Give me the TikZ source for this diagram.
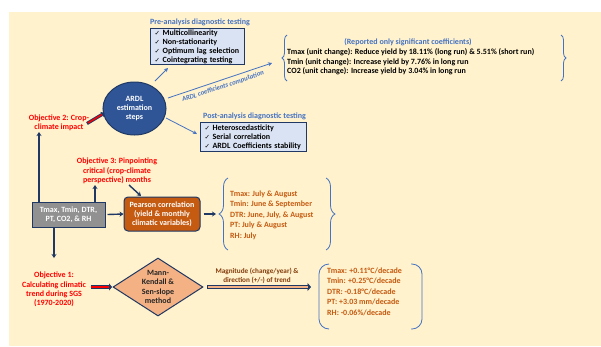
\documentclass[tikz,border=0pt]{standalone}
\usepackage{fontspec}
\setmainfont{Carlito}
\newfontfamily\dejavu{DejaVu Sans}
\usetikzlibrary{arrows.meta,shapes.geometric,decorations.pathreplacing,calc}
\definecolor{cream}{HTML}{FFF2CC}
\definecolor{navy}{HTML}{1F3864}
\definecolor{bluet}{HTML}{4472C4}
\definecolor{redt}{HTML}{FF0000}
\definecolor{oranget}{HTML}{C55A11}
\definecolor{boxblue}{HTML}{DAE3F3}
\definecolor{ellblue}{HTML}{2F5597}
\definecolor{salmon}{HTML}{F4B183}
\definecolor{brownt}{HTML}{843C0C}
\newcommand{\chk}{{\dejavu\fontsize{6.5}{9}\selectfont ✓}\ }
\begin{document}
\begin{tikzpicture}[x=1pt,y=-1pt,
  every node/.style={font=\fontsize{8}{9.2}\selectfont\bfseries, inner sep=0pt},
  diagbox/.style={draw=navy, line width=1pt, fill=boxblue, anchor=north west, align=left, inner xsep=4pt},
  bluetitle/.style={text=bluet},
  objtxt/.style={text=redt, align=center},
  orangetxt/.style={text=oranget, align=left, font=\fontsize{8}{10.5}\selectfont\bfseries},
  navyarrow/.style={draw=navy, line width=1.4pt, -{Stealth[length=4pt,width=5pt]}},
  bluearrow/.style={draw=bluet, line width=0.8pt, -{Stealth[length=4pt,width=4pt]}},
  bluebrace/.style={draw=bluet, line width=0.8pt, decorate},
]
\useasboundingbox (0,0) rectangle (601,346);
\fill[white] (0,0) rectangle (601,346);
\fill[cream] (9,12) rectangle (601,346);

% Pre-analysis
\node[bluetitle, anchor=south west] (pretitle) at (150,26.5) {Pre-analysis diagnostic testing};
\node[diagbox, text width=86pt, minimum height=36pt, font=\fontsize{8}{9}\selectfont\bfseries] (pre) at (150,28)
  {\chk Multicollinearity\\ \chk Non-stationarity\\ \chk Optimum lag selection\\ \chk Cointegrating testing};

% Post-analysis
\node[bluetitle, anchor=south west] (posttitle) at (203,120.5) {Post-analysis diagnostic testing};
\node[diagbox, text width=98pt, minimum height=29pt, font=\fontsize{8}{9}\selectfont\bfseries] (post) at (200,122)
  {\chk Heteroscedasticity\\ \chk Serial correlation\\ \chk ARDL Coefficients stability};

% Ellipse
\node[ellipse, draw=navy, line width=1pt, fill=ellblue, text=white, align=center,
  minimum width=63pt, minimum height=53pt] (ardl) at (134.5,108.5) {ARDL\\ estimation\\ steps};

% Coefficients text
\node[bluetitle] (rep) at (408,42) {(Reported only significant coefficients)};
\node[anchor=north west, align=left, font=\fontsize{8}{9.5}\selectfont\bfseries] (coef) at (287,48.5)
  {Tmax (unit change): Reduce yield by 18.11\% (long run) \& 5.51\% (short run)\\
   Tmin (unit change): Increase yield by 7.76\% in long run\\
   CO2 (unit change): Increase yield by 3.04\% in long run};
\coordinate (cbl) at (287,81);
\coordinate (cbt) at (287,35);
\coordinate (cbr1) at (561,35);
\coordinate (cbr2) at (561,81);
\draw[bluebrace, decoration={brace, amplitude=5pt}] (cbl) -- (cbt);
\draw[bluebrace, decoration={brace, amplitude=5pt}] (cbr1) -- (cbr2);

% Arrows from ellipse
\coordinate (c1s) at (155,81);
\coordinate (c1e) at (168,68);
\draw[bluearrow] (c1s) -- (c1e);
\coordinate (c2s) at (168,98);
\coordinate (c2e) at (272,63);
\draw[bluearrow] (c2s) -- (c2e);
\node[rotate=18.6, font=\fontsize{6.8}{8}\selectfont\bfseries\itshape, text=bluet] (coeflab) at (223,86.5) {ARDL coefficients computation};
\coordinate (c3s) at (166,118);
\coordinate (c3e) at (197,134);
\draw[bluearrow] (c3s) -- (c3e);

% Objective 2
\node[objtxt] (obj2) at (59,122.5) {Objective 2: Crop-\\ climate impact};
\coordinate (o2s) at (87,123.5);
\coordinate (o2e) at (104.5,113);
\draw[navy, line width=3.2pt, -{Triangle[length=3pt,width=6pt]}] (o2s) -- (o2e);
\draw[redt, line width=1.4pt, shorten >=3pt, shorten <=0.9pt] (o2s) -- (o2e);

% Gray box
\node[draw=navy, line width=1pt, fill=gray!85!black!75, text=white, align=center,
  minimum width=73pt, minimum height=25pt] (clim) at (68.5,214.5) {Tmax, Tmin, DTR,\\ PT, CO2, \& RH};
\draw[navyarrow] (clim.north -| 39,0) -- (39,132);
\draw[navyarrow] (clim.north -| 95,0) -- (95,185);
\draw[navyarrow] (clim.south -| 54,0) -- (54,258);

% Objective 3
\node[objtxt] (obj3) at (117,171) {Objective 3: Pinpointing\\ critical (crop-climate\\ perspective) months};
\coordinate (o3s) at (129,185);
\coordinate (o3e) at (141,196);
\draw[navyarrow] (o3s) -- (o3e);

% Pearson
\node[draw=navy, line width=1pt, fill=oranget, text=white, align=center, rounded corners=4pt,
  minimum width=76pt, minimum height=34pt] (pear) at (162,214) {Pearson correlation\\ (yield \& monthly\\ climatic variables)};
\draw[navyarrow] (clim.east) ++(2,0) -- (pear.west);
\draw[navyarrow] (pear.east) ++(3,0) -- (216,214);

% Months
\coordinate (mb1) at (228,250);
\coordinate (mb2) at (228,178);
\coordinate (mb3) at (326,178);
\coordinate (mb4) at (326,250);
\draw[bluebrace, decoration={brace, amplitude=9pt}] (mb1) -- (mb2);
\draw[bluebrace, decoration={brace, amplitude=9pt}] (mb3) -- (mb4);
\node[orangetxt, anchor=north west] (months) at (230,190.5)
  {Tmax: July \& August\\ Tmin: June \& September\\ DTR: June, July, \& August\\ PT: July \& August\\ RH: July};

% Objective 1
\node[objtxt] (obj1) at (54,289.5) {Objective 1:\\ Calculating climatic\\ trend during SGS\\ (1970-2020)};
\coordinate (o1s) at (90.5,287);
\coordinate (o1e) at (112,287);
\draw[navy, line width=3.6pt, -{Triangle[length=3pt,width=7pt]}] (o1s) -- (o1e);
\draw[redt, line width=1.8pt, shorten >=3pt, shorten <=0.9pt] (o1s) -- (o1e);

% Diamond
\node[diamond, draw=navy, line width=1pt, fill=salmon, text=black!85, align=center, aspect=1.55,
  minimum width=90pt, minimum height=58pt, inner sep=0pt] (mk) at (158,287) {Mann-\\ Kendall \&\\ Sen-slope\\ method};

% Magnitude arrow
\node[text=brownt, align=center, font=\fontsize{7.2}{8.6}\selectfont\bfseries] (maglab) at (257,276) {Magnitude (change/year) \&\\ direction (+/-) of trend};
\coordinate (ms) at (207,287);
\coordinate (me) at (311,287);
\draw[navy, line width=4.2pt, -{Triangle[length=3.5pt,width=8pt]}] (ms) -- (me);
\draw[salmon, line width=2.4pt, shorten >=3.5pt, shorten <=0.9pt] (ms) -- (me);

% Trend results
\draw[draw=bluet, line width=0.8pt, rounded corners=10pt] (329,264) -- (319,264) -- (319,329) -- (329,329);
\draw[draw=bluet, line width=0.8pt, rounded corners=10pt] (411,264) -- (422,264) -- (422,329) -- (411,329);
\node[orangetxt, anchor=north west] (trend) at (327,267.5)
  {Tmax: +0.11°C/decade\\ Tmin: +0.25°C/decade\\ DTR: -0.18°C/decade\\ PT: +3.03 mm/decade\\ RH: -0.06\%/decade};
\end{tikzpicture}
\end{document}
